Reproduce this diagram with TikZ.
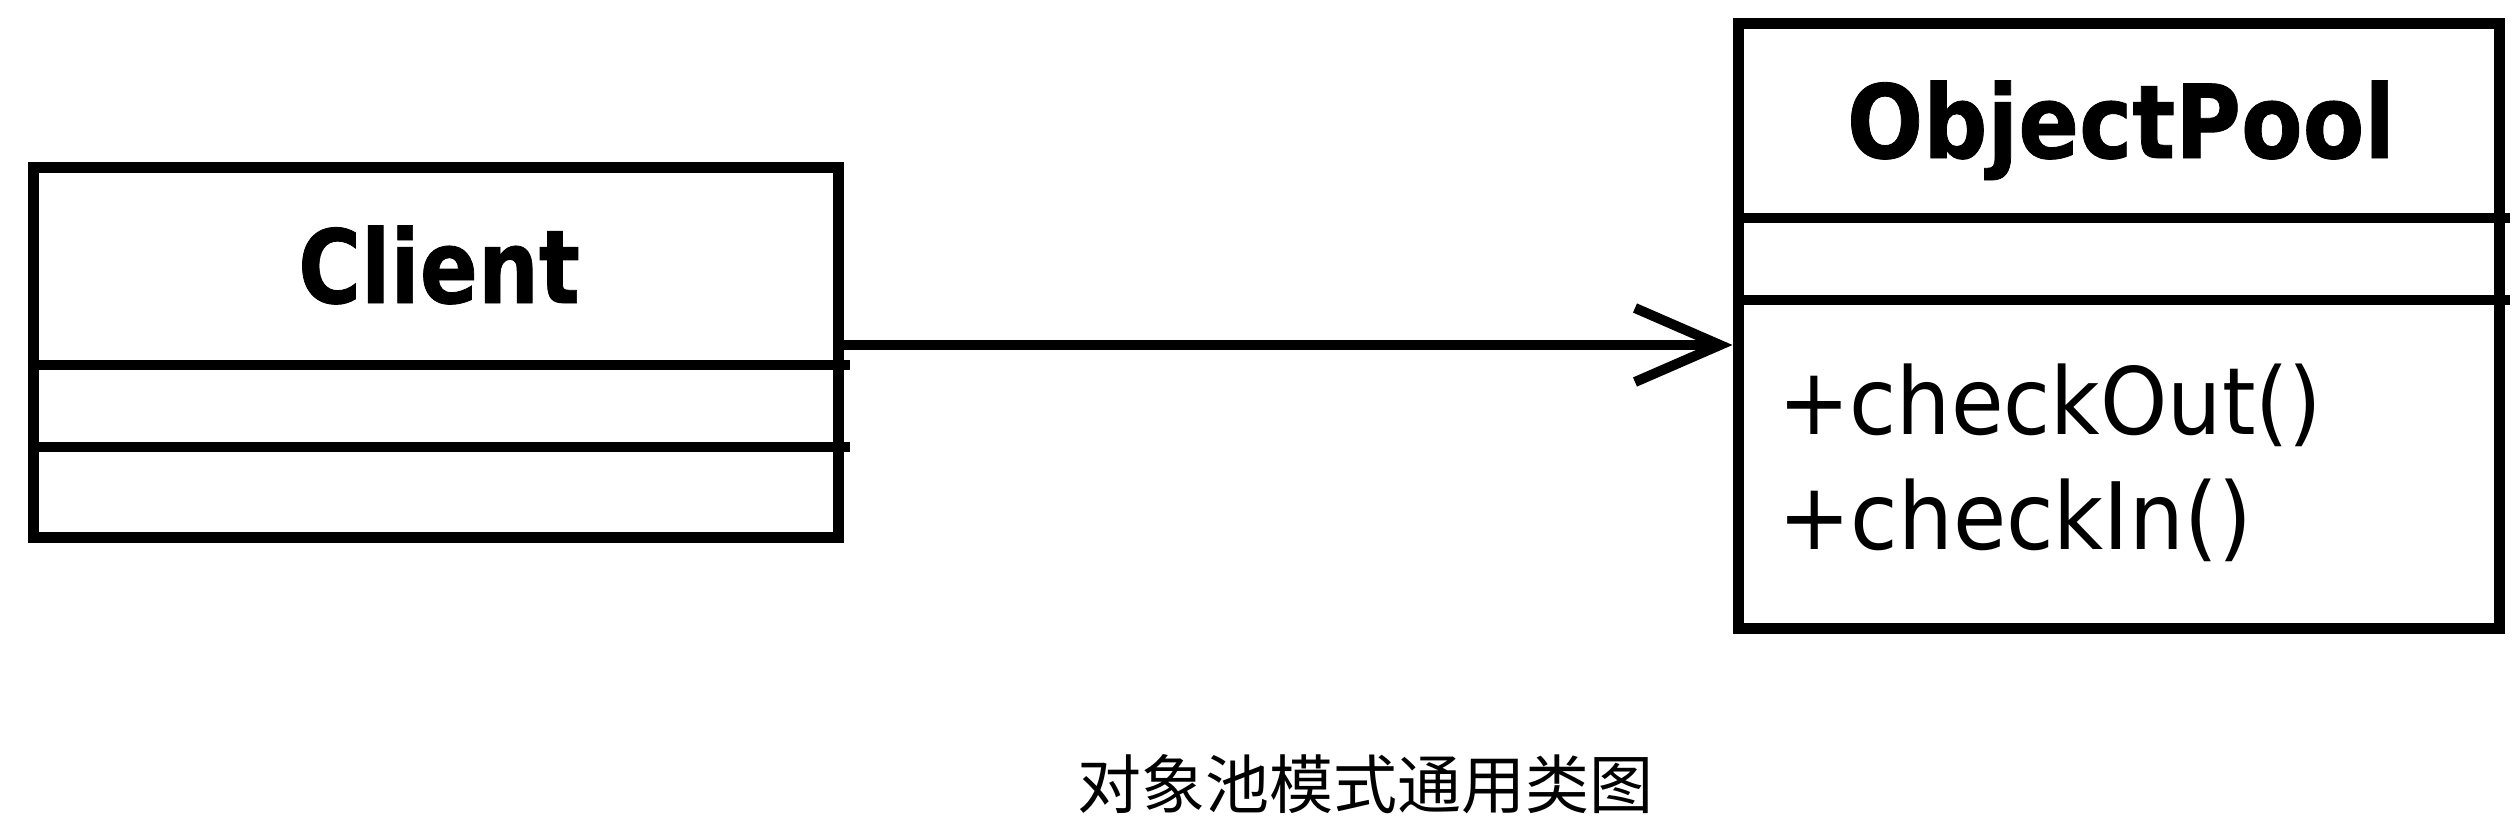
\documentclass[tikz,border=0pt]{standalone}
\usepackage{fontspec}
\setmainfont{DejaVu Sans}
\newfontfamily\cjk{Noto Sans CJK SC}
\newfontfamily\titlefont[FakeBold=0.8]{DejaVu Sans Bold}
\usetikzlibrary{arrows.meta}
\begin{document}
\begin{tikzpicture}[x=1pt,y=-1pt,
  umlbox/.style={draw=black, line width=11pt, fill=white, inner sep=0pt},
  divider/.style={line width=10pt},
  titletext/.style={anchor=base, inner sep=0pt, font=\titlefont\fontsize{102}{120}\selectfont},
  methodtext/.style={anchor=base west, inner sep=0pt, font=\fontsize{93}{110}\selectfont},
  assoc/.style={line width=10pt, -{Straight Barb[length=85pt,width=74pt]}}]
\useasboundingbox (0,0) rectangle (2518,822);
\fill[white] (0,0) rectangle (2518,822);
% Client box
\node[umlbox, minimum width=805pt, minimum height=370pt] (client) at (435.5,352) {};
\draw[divider] (client.west |- 0,365) -- (850,365);
\draw[divider] (client.west |- 0,447) -- (850,447);
\node[titletext] (clientname) at (439,303) {\scalebox{0.84}[1]{Client}};
% ObjectPool box
\node[umlbox, minimum width=761pt, minimum height=605pt] (pool) at (2118.5,325.5) {};
\draw[divider] (pool.west |- 0,218) -- (2510,218);
\draw[divider] (pool.west |- 0,300) -- (2510,300);
\node[titletext] (poolname) at (2121,158) {\scalebox{0.88}[1]{ObjectPool}};
\node[methodtext] (m1) at (1778,434) {\scalebox{0.92}[1]{+checkOut()}};
\node[methodtext] (m2) at (1778,549) {\scalebox{0.93}[1]{+checkIn()}};
% association
\draw[assoc] (client.east |- 0,345) -- (pool.west |- 0,345);
% caption
\node[inner sep=0pt, font=\cjk\fontsize{64}{77}\selectfont] (caption) at (1365,784) {对象池模式通用类图};
\end{tikzpicture}
\end{document}
